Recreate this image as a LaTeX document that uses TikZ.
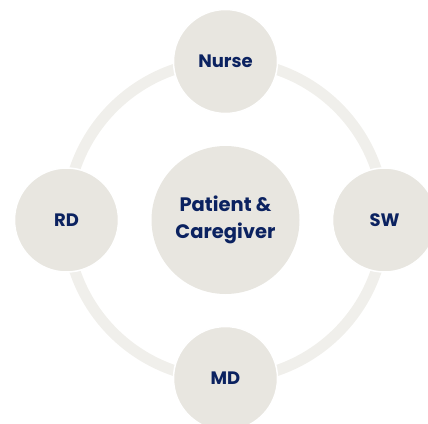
\documentclass[tikz,border=0pt]{standalone}
\usepackage{fontspec}
\setmainfont{Poppins}
\usepackage{tikz}

\definecolor{navy}{HTML}{0B2260}
\definecolor{disc}{HTML}{E8E6E0}
\definecolor{ring}{HTML}{F0EFEB}

\begin{document}
\begin{tikzpicture}[x=1pt,y=1pt]%
                \useasboundingbox (0,0) rectangle (428,-423);
                \tikzset{role/.style={shape=circle,fill=disc,draw=white,line width=1.5pt,
                    minimum size=104pt,inner sep=0pt,text=navy,font=\fontsize{18}{22}\selectfont\bfseries}}

                % the care ring behind everything
                \draw [ring,line width=11pt] (225.5,-220) circle (159);

                \node[shape=circle,fill=disc,minimum size=148pt,inner sep=0pt,text=navy,
                    align=center,font=\fontsize{19.5}{27}\selectfont\bfseries] (P) at (225.5,-220) {Patient \&\\Caregiver};
                \node[role] (N) at (225.5,-61.5) {Nurse};
                \node[role] (R) at (66.5,-220) {RD};
                \node[role] (S) at (384.5,-220) {SW};
                \node[role] (M) at (225.5,-378.5) {MD};
            \end{tikzpicture}
\end{document}
